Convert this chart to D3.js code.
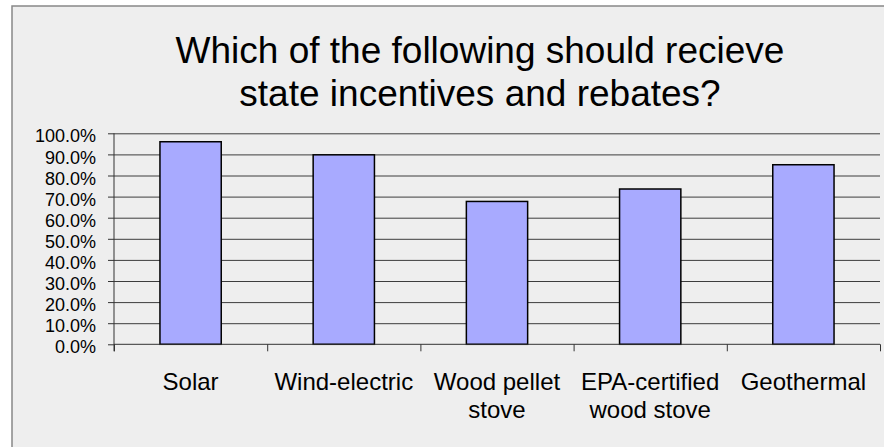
<html><head>
<title>state incentives chart</title>
<script src="https://d3js.org/d3.v7.min.js"></script>
<style>
  body { margin: 0; background-color: white; }
  .title { font-family: 'Liberation Sans', Arial, sans-serif; font-size: 37px; fill: #000; }
  .ylabel { font-family: 'Liberation Sans', Arial, sans-serif; font-size: 18px; fill: #000; }
  .xlabel { font-family: 'Liberation Sans', Arial, sans-serif; font-size: 24px; fill: #000; }
</style>
</head>
<body>
<svg id="chart" width="884" height="447"></svg>
<script>

  // data
  const categories = ["Solar", "Wind-electric", "Wood pellet stove", "EPA-certified wood stove", "Geothermal"];
  const labelLines = [["Solar"], ["Wind-electric"], ["Wood pellet", "stove"], ["EPA-certified", "wood stove"], ["Geothermal"]];
  const values = [0.960, 0.898, 0.677, 0.736, 0.851];
  const yTicks = [0, 0.1, 0.2, 0.3, 0.4, 0.5, 0.6, 0.7, 0.8, 0.9, 1.0];
  const titleLines = ["Which of the following should recieve", "state incentives and rebates?"];

  const svg = d3.select("#chart");
  const plot = { left: 114, right: 880, top: 133.3, bottom: 344.3 };

  // chart frame (runs off right / bottom of the picture)
  svg.append("rect")
     .attr("x", 12).attr("y", 6)
     .attr("width", 940).attr("height", 460)
     .attr("fill", "#eeeeee")
     .attr("stroke", "#888")
     .attr("stroke-width", 1.5);

  // title
  svg.selectAll("text.title").data(titleLines)
     .join("text")
     .attr("class", "title")
     .attr("text-anchor", "middle")
     .attr("x", 480)
     .attr("y", (d, i) => 63 + i * 43)
     .text(d => d);

  const x = d3.scaleBand().domain(categories)
              .range([plot.left, plot.right])
              .paddingInner(0.6).paddingOuter(0.3);
  const xTicks = d3.scaleLinear().domain([0, categories.length]).range([plot.left, plot.right]);
  const y = d3.scaleLinear().domain([0, 1]).range([plot.bottom, plot.top]);

  // horizontal gridlines
  const grid = svg.append("g")
     .attr("transform", `translate(${plot.left},0)`)
     .call(d3.axisLeft(y).tickValues(yTicks.slice(1))
             .tickSize(-(plot.right - plot.left)).tickFormat(""));
  grid.select(".domain").remove();
  grid.selectAll("line").attr("stroke", "#000").attr("stroke-width", 1).attr("opacity", 0.75);

  // bars
  svg.selectAll("rect.bar").data(values)
     .join("rect")
     .attr("class", "bar")
     .attr("x", (d, i) => x(categories[i]))
     .attr("width", x.bandwidth())
     .attr("y", d => y(d))
     .attr("height", d => y(0) - y(d))
     .attr("fill", "#a8aaff")
     .attr("stroke", "#000")
     .attr("stroke-width", 1.5);

  // y axis
  const yAxis = svg.append("g")
     .attr("transform", `translate(${plot.left},0)`)
     .call(d3.axisLeft(y).tickValues(yTicks).tickSize(6).tickFormat(d3.format(".1%")));
  yAxis.select(".domain").attr("d", `M0,${plot.top}V${plot.bottom + 7}`).attr("stroke", "#333");
  yAxis.selectAll("line").attr("stroke", "#333");
  yAxis.selectAll("text")
     .attr("class", "ylabel")
     .attr("x", -18)
     .attr("dy", "0.48em")
     .attr("fill", "#000");

  // x axis with ticks at category boundaries
  const xAxis = svg.append("g")
     .attr("transform", `translate(0,${plot.bottom})`)
     .call(d3.axisBottom(xTicks).ticks(categories.length).tickSize(7).tickFormat(""));
  xAxis.select(".domain").attr("d", `M${plot.left},0H${plot.right}`).attr("stroke", "#333");
  xAxis.selectAll("line").attr("stroke", "#333");

  // category labels
  const lab = svg.selectAll("text.xlabel").data(labelLines)
     .join("text")
     .attr("class", "xlabel")
     .attr("text-anchor", "middle")
     .attr("x", (d, i) => x(categories[i]) + x.bandwidth() / 2)
     .attr("y", 390);
  lab.selectAll("tspan").data(d => d)
     .join("tspan")
     .attr("x", function() { return d3.select(this.parentNode).attr("x"); })
     .attr("dy", (d, i) => i === 0 ? 0 : 28)
     .text(d => d);

</script>
</body>
</html>
